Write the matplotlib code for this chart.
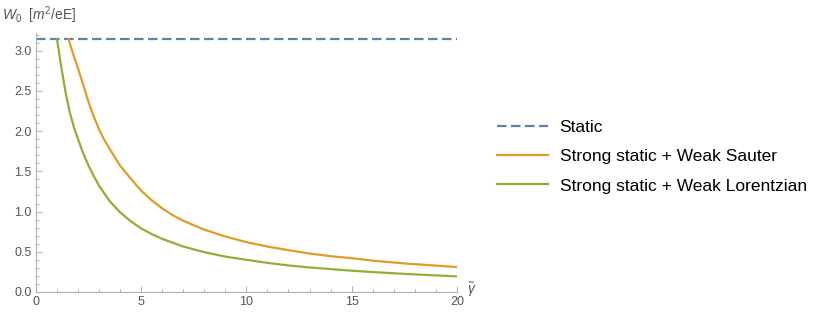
import matplotlib.pyplot as plt
import numpy as np
from matplotlib.ticker import MultipleLocator

plt.rcParams['font.family'] = ['Liberation Sans', 'DejaVu Sans']
plt.rcParams['mathtext.fontset'] = 'custom'
plt.rcParams['mathtext.it'] = 'Liberation Sans:italic'
plt.rcParams['mathtext.rm'] = 'Liberation Sans'

# data
static_x = [0.0, 20.0]
static_y = [3.1416, 3.1416]

sauter_x = [1.55, 1.75, 2.0, 2.25, 2.5, 2.75, 3.0, 3.25, 3.5, 4.0, 4.5, 5.0, 5.5, 6.0,
            6.5, 7.0, 8.0, 9.0, 10.0, 11.0, 12.0, 13.0, 14.0, 15.0, 16.0, 17.5, 20.0]
sauter_y = [3.1416, 2.97, 2.78, 2.57, 2.36, 2.18, 2.02, 1.89, 1.78, 1.57, 1.41, 1.26,
            1.14, 1.04, 0.955, 0.885, 0.775, 0.69, 0.62, 0.565, 0.52, 0.478, 0.445,
            0.42, 0.39, 0.355, 0.31]

lorentz_x = [1.0, 1.2, 1.4, 1.6, 1.8, 2.0, 2.25, 2.5, 2.75, 3.0, 3.5, 4.0, 4.5, 5.0,
             5.5, 6.0, 7.0, 8.0, 9.0, 10.0, 11.0, 12.0, 13.0, 14.0, 15.0, 16.0, 17.5,
             20.0]
lorentz_y = [3.1416, 2.80, 2.49, 2.24, 2.05, 1.90, 1.72, 1.57, 1.44, 1.32, 1.13, 0.99,
             0.88, 0.79, 0.72, 0.66, 0.565, 0.495, 0.44, 0.40, 0.362, 0.33, 0.305,
             0.285, 0.265, 0.248, 0.225, 0.194]

labels = ['Static', 'Strong static + Weak Sauter', 'Strong static + Weak Lorentzian']
colors = ['#5E81B5', '#E19C24', '#8FB032']

fig = plt.figure(figsize=(8.14, 3.17), dpi=100)
ax = fig.add_axes([0.0442, 0.0789, 0.517, 0.817])

ax.plot(static_x, static_y, color=colors[0], lw=1.6, ls=(0, (4.3, 2.0)), label=labels[0])
ax.plot(sauter_x, sauter_y, color=colors[1], lw=1.6, label=labels[1])
ax.plot(lorentz_x, lorentz_y, color=colors[2], lw=1.6, label=labels[2])

ax.set_xlim(0, 20)
ax.set_ylim(0, 3.22)

for s in ['top', 'right']:
    ax.spines[s].set_visible(False)
for s in ['left', 'bottom']:
    ax.spines[s].set_color('#b0b0b0')
    ax.spines[s].set_linewidth(0.8)

ax.xaxis.set_major_locator(MultipleLocator(5))
ax.xaxis.set_minor_locator(MultipleLocator(1))
ax.yaxis.set_major_locator(MultipleLocator(0.5))
ax.yaxis.set_minor_locator(MultipleLocator(0.1))
ax.yaxis.set_major_formatter(plt.FuncFormatter(lambda v, p: '%.1f' % v))
ax.tick_params(which='both', direction='in', color='#b0b0b0', labelcolor='#555555',
               labelsize=9, width=0.7)
ax.tick_params(which='major', length=4, pad=3)
ax.tick_params(which='minor', length=2.5)

fig.text(0.002, 0.985, r'$W_0$  [$m^2$/eE]', ha='left', va='top', fontsize=10,
         color='#555555')
ax.text(1.025, 0.01, r'$\tilde{\gamma}$', transform=ax.transAxes, ha='left',
        va='center', fontsize=10, color='#555555')

fig.legend(loc='center left', bbox_to_anchor=(0.591, 0.506), frameon=False,
           fontsize=12.5, handlelength=2.93, handletextpad=0.69, labelspacing=0.82)

fig.savefig('out.png', dpi=100)
